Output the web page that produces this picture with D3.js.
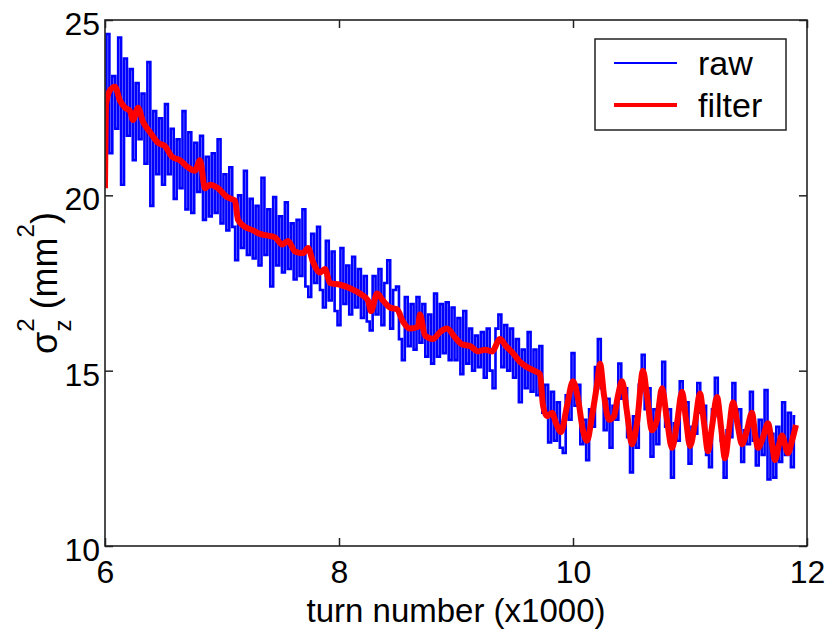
<!DOCTYPE html>
<html>
<head>
<meta charset="utf-8">
<script src="https://cdn.jsdelivr.net/npm/d3@7"></script>
<style>
body { margin: 0; background: #fff; }
svg { display: block; font-family: "Liberation Sans", Arial, Helvetica, sans-serif; }
.axis text { font-size: 32px; fill: #000; }
.axis line { stroke: #222; stroke-width: 1.5; }
.axis path { display: none; }
</style>
</head>
<body>
<svg id="chart" width="834" height="629"></svg>
<script>
// raw samples, one every 25 turns starting at turn 6000 (axis is in x1000)
const rawStart = 6.0;
const rawStep = 0.025;
const rawValues = [
    20.6, 24.6, 21.2, 23.4, 21.9, 24.5, 20.3, 23.9, 21.7, 23.6,
    21.0, 23.2, 21.6, 22.9, 20.9, 23.8, 19.7, 22.4, 20.6, 22.2,
    20.3, 22.6, 20.6, 21.9, 19.9, 21.6, 20.2, 22.4, 19.6, 21.8,
    19.5, 21.5, 20.1, 21.7, 19.3, 21.1, 19.4, 21.2, 19.5, 21.6,
    19.2, 20.6, 19.0, 20.8, 19.1, 18.15, 20.0, 18.5, 20.7, 18.3,
    19.9, 18.2, 19.7, 18.0, 20.5, 18.3, 19.6, 17.4, 19.95, 18.0,
    19.4, 17.8, 19.8, 17.9, 19.2, 17.6, 19.3, 17.7, 19.6, 17.4,
    17.1, 18.9, 17.5, 19.1, 17.3, 16.8, 18.7, 17.0, 18.4, 16.7,
    16.3, 18.5, 16.9, 18.0, 16.6, 18.25, 16.8, 17.9, 16.5, 17.7,
    16.4, 16.15, 17.7, 16.6, 17.9, 16.3, 17.5, 18.15, 16.2, 17.3,
    17.4, 15.9, 15.3, 17.1, 15.7, 16.9, 15.6, 17.1, 15.8, 16.9,
    15.4, 16.6, 15.2, 17.2, 15.4, 16.9, 15.5, 16.95, 15.3, 16.8,
    15.3, 16.5, 14.9, 16.7, 15.2, 16.2, 15.0, 16.0, 15.1, 16.1,
    14.8, 16.2, 15.0, 14.5, 16.2, 16.6, 15.1, 16.3, 15.0, 16.2,
    14.8, 15.9, 14.1, 15.6, 14.5, 16.1, 14.4, 15.6, 14.3, 15.7,
    13.8, 14.6, 12.95, 14.4, 13.0, 14.1, 12.8, 12.65, 14.3, 13.6,
    15.5, 14.0, 14.6, 12.9, 13.6, 12.45, 13.9, 13.4, 15.1, 15.9,
    14.5, 13.3, 14.2, 12.8, 14.0, 13.6, 15.2, 14.2, 14.5, 13.1,
    12.1, 13.7, 12.8, 14.6, 15.45, 13.9, 14.5, 12.55, 13.9, 12.9,
    14.2, 15.25, 13.4, 13.9, 11.95, 13.5, 13.0, 14.7, 13.9, 14.1,
    12.35, 13.4, 13.2, 14.65, 13.8, 14.0, 12.6, 12.25, 13.9, 14.8,
    13.7, 13.0, 11.95, 13.3, 13.1, 14.65, 13.6, 13.9, 12.4, 13.3,
    12.9, 14.4, 13.0, 12.3, 13.6, 12.6, 14.45, 11.9, 13.2, 11.95,
    13.4, 12.4, 14.1, 12.6, 13.8, 12.25, 13.7
];

const filterTurns = [
    6.000, 6.009, 6.043, 6.085, 6.128, 6.171, 6.214, 6.239, 6.282, 6.325,
    6.385, 6.453, 6.513, 6.573, 6.641, 6.709, 6.769, 6.812, 6.855, 6.897,
    6.966, 7.043, 7.111, 7.137, 7.197, 7.265, 7.325, 7.393, 7.453, 7.513,
    7.564, 7.624, 7.692, 7.735, 7.778, 7.838, 7.880, 7.923, 8.009, 8.094,
    8.179, 8.248, 8.274, 8.325, 8.376, 8.436, 8.496, 8.547, 8.607, 8.675,
    8.692, 8.735, 8.803, 8.863, 8.923, 8.991, 9.051, 9.120, 9.188, 9.248,
    9.308, 9.376, 9.427, 9.487, 9.547, 9.607, 9.667, 9.718, 9.744, 9.778,
    9.821, 9.855, 9.897, 9.949, 10.000, 10.043, 10.085, 10.120, 10.162, 10.205,
    10.231, 10.265, 10.308, 10.350, 10.385, 10.419, 10.462, 10.504, 10.547, 10.598,
    10.632, 10.675, 10.718, 10.761, 10.803, 10.846, 10.889, 10.932, 10.966, 11.000,
    11.043, 11.085, 11.120, 11.154, 11.188, 11.231, 11.265, 11.299, 11.333, 11.368,
    11.410, 11.444, 11.487, 11.530, 11.556, 11.581, 11.624, 11.667, 11.701, 11.726,
    11.761, 11.786, 11.838, 11.872, 11.906
];
const filterValues = [
    20.2, 22.6, 23.0, 23.1, 22.7, 22.5, 22.4, 22.15, 22.5, 22.1,
    21.8, 21.5, 21.4, 21.1, 21.0, 20.8, 20.7, 21.0, 20.2, 20.3,
    20.2, 19.95, 19.85, 19.3, 19.1, 19.0, 18.9, 18.85, 18.8, 18.6,
    18.7, 18.4, 18.35, 18.5, 18.1, 17.8, 17.9, 17.5, 17.45, 17.35,
    17.2, 17.0, 16.7, 17.2, 17.0, 16.8, 16.75, 16.4, 16.2, 16.25,
    16.6, 16.0, 15.9, 16.1, 16.2, 15.95, 15.75, 15.7, 15.55, 15.6,
    15.55, 15.9, 15.7, 15.5, 15.25, 15.1, 15.0, 14.9, 14.0, 13.7,
    13.8, 13.5, 13.25, 14.0, 14.7, 14.2, 13.3, 13.0, 13.7, 14.6,
    15.2, 14.3, 13.6, 13.7, 14.3, 14.7, 13.8, 12.9, 13.5, 15.0,
    14.3, 13.3, 13.6, 14.5, 13.6, 12.8, 13.5, 14.4, 13.6, 12.85,
    13.5, 14.35, 13.5, 12.7, 13.4, 14.25, 13.4, 12.5, 13.3, 14.1,
    13.4, 12.9, 13.3, 13.8, 13.2, 12.8, 13.1, 13.5, 12.9, 12.45,
    12.9, 13.15, 12.65, 13.0, 13.45
];

const xTicks = [6, 8, 10, 12];
const yTicks = [10, 15, 20, 25];

const legendItems = [
    {label: "raw", color: "#0000ff", width: 2},
    {label: "filter", color: "#ff0000", width: 4}
];


const svg = d3.select("#chart");
const plot = {left: 105, right: 807, top: 20, bottom: 546};

const x = d3.scaleLinear().domain([6, 12]).range([plot.left, plot.right]);
const y = d3.scaleLinear().domain([10, 25]).range([plot.bottom, plot.top]);

const raw = rawValues.map((v, i) => ({t: rawStart + i * rawStep, v: v}));
const filtered = filterTurns.map((t, i) => ({t: t, v: filterValues[i]}));

svg.append("clipPath")
    .attr("id", "clip")
    .append("rect")
    .attr("x", plot.left)
    .attr("y", plot.top)
    .attr("width", plot.right - plot.left)
    .attr("height", plot.bottom - plot.top);

// raw trace looks blocky in the original, so draw it as steps
const rawLine = d3.line()
    .curve(d3.curveStep)
    .x(d => x(d.t))
    .y(d => y(d.v));

const filterLine = d3.line()
    .curve(d3.curveMonotoneX)
    .x(d => x(d.t))
    .y(d => y(d.v));

svg.append("path")
    .datum(raw)
    .attr("clip-path", "url(#clip)")
    .attr("fill", "none")
    .attr("stroke", "#0000ff")
    .attr("stroke-width", 2.6)
    .attr("d", rawLine);

svg.append("path")
    .datum(filtered)
    .attr("clip-path", "url(#clip)")
    .attr("fill", "none")
    .attr("stroke", "#ff0000")
    .attr("stroke-width", 6)
    .attr("stroke-linejoin", "round")
    .attr("d", filterLine);


// axes: ticks point inward on all four sides, labels only bottom/left
svg.append("g")
    .attr("class", "axis")
    .attr("transform", `translate(0,${plot.bottom})`)
    .call(d3.axisBottom(x).tickValues(xTicks).tickSize(-8).tickPadding(14).tickFormat(d3.format("d")));

svg.append("g")
    .attr("class", "axis")
    .attr("transform", `translate(${plot.left},0)`)
    .call(d3.axisLeft(y).tickValues(yTicks).tickSize(-8).tickPadding(5).tickFormat(d3.format("d")))
    .selectAll("text")
    .attr("dy", "0.45em");

svg.append("g")
    .attr("class", "axis")
    .attr("transform", `translate(0,${plot.top})`)
    .call(d3.axisTop(x).tickValues(xTicks).tickSize(-8).tickFormat(""));

svg.append("g")
    .attr("class", "axis")
    .attr("transform", `translate(${plot.right},0)`)
    .call(d3.axisRight(y).tickValues(yTicks).tickSize(-8).tickFormat(""));

svg.append("rect")
    .attr("x", plot.left)
    .attr("y", plot.top)
    .attr("width", plot.right - plot.left)
    .attr("height", plot.bottom - plot.top)
    .attr("fill", "none")
    .attr("stroke", "#222")
    .attr("stroke-width", 1.6);


// axis titles
svg.append("text")
    .attr("x", (plot.left + plot.right) / 2)
    .attr("y", 622)
    .attr("text-anchor", "middle")
    .style("font-size", "33px")
    .text("turn number (x1000)");

const yLabel = svg.append("text")
    .attr("transform", `translate(57,${(plot.top + plot.bottom) / 2}) rotate(-90)`)
    .attr("text-anchor", "middle")
    .style("font-size", "36px");
yLabel.append("tspan").text("σ");
yLabel.append("tspan").attr("dy", -23).style("font-size", "24px").text("2");
yLabel.append("tspan").attr("dx", -13).attr("dy", 37).style("font-size", "24px").text("z");
yLabel.append("tspan").attr("dy", -14).text(" (mm");
yLabel.append("tspan").attr("dy", -23).style("font-size", "24px").text("2");
yLabel.append("tspan").attr("dy", 23).text(")");


// legend
const legend = svg.append("g").attr("class", "legend");

legend.append("rect")
    .attr("x", 595)
    .attr("y", 39)
    .attr("width", 191)
    .attr("height", 91)
    .attr("fill", "#fff")
    .attr("stroke", "#222")
    .attr("stroke-width", 1.5);

const rows = legend.selectAll(".row")
    .data(legendItems)
    .enter()
    .append("g")
    .attr("class", "row")
    .attr("transform", (d, i) => `translate(0,${63 + i * 42})`);

rows.append("line")
    .attr("x1", 614)
    .attr("x2", 677)
    .attr("stroke", d => d.color)
    .attr("stroke-width", d => d.width);

rows.append("text")
    .attr("x", 698)
    .attr("y", 12)
    .style("font-size", "34px")
    .text(d => d.label);
</script>
</body>
</html>
